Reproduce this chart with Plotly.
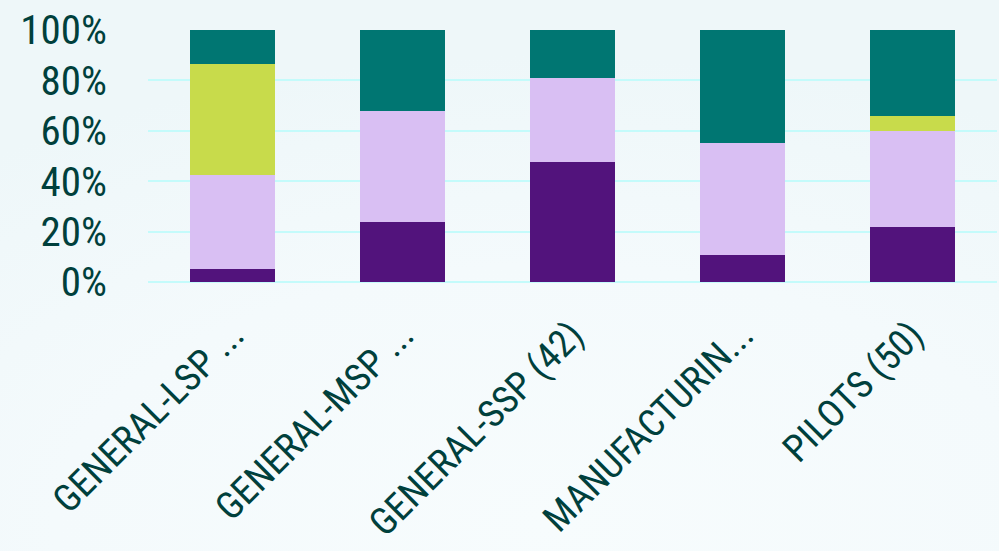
import plotly.graph_objects as go

categories = ["GENERAL-LSP ...", "GENERAL-MSP ...", "GENERAL-SSP (42)", "MANUFACTURIN...", "PILOTS (50)"]
series_names = ["Series A", "Series B", "Series C", "Series D"]
purple_vals = [5.0, 23.7, 47.6, 10.6, 22.0]
lavender_vals = [37.5, 44.1, 33.3, 44.6, 38.0]
yellow_vals = [44.0, 0.0, 0.0, 0.0, 6.0]
teal_vals = [13.5, 32.2, 19.1, 44.8, 34.0]
tick_vals = [0, 20, 40, 60, 80, 100]
tick_text = ["0%", "20%", "40%", "60%", "80%", "100%"]

colors = ["#52137c", "#d9bff3", "#c8db4b", "#007672"]
font_family = "Roboto Condensed, sans-serif"
text_color = "#00403c"

fig = go.Figure()
for name, vals, col in zip(series_names, [purple_vals, lavender_vals, yellow_vals, teal_vals], colors):
    fig.add_trace(go.Bar(
        x=categories, y=vals, name=name,
        marker=dict(color=col, line=dict(width=0)),
    ))

fig.update_layout(
    barmode="stack",
    bargap=0.5,
    width=999, height=551,
    margin=dict(l=148, r=2, t=30, b=269),
    paper_bgcolor="rgba(0,0,0,0)",
    plot_bgcolor="rgba(0,0,0,0)",
    showlegend=False,
    font=dict(family=font_family, color=text_color),
)
fig.update_yaxes(
    range=[0, 100],
    tickvals=tick_vals, ticktext=tick_text,
    tickfont=dict(size=41, color=text_color, family=font_family),
    showgrid=True, gridcolor="#c4fbfb", gridwidth=2,
    zeroline=True, zerolinecolor="#c4fbfb", zerolinewidth=2,
    ticklabelstandoff=40,
    showline=False,
    automargin=False,
)
fig.update_xaxes(
    tickangle=-45,
    tickfont=dict(size=38, color=text_color, family=font_family),
    ticklabelstandoff=22,
    showgrid=False, showline=False,
    automargin=False,
)

post = (
    "document.body.style.margin='0px';"
    "document.body.style.background='radial-gradient(ellipse 90% 85% at 55% 95%, #f7fcfd 0%, #f4fafc 55%, #eef7f9 100%)';"
)
fig.write_html("out.html", config={"displayModeBar": False}, post_script=post)
